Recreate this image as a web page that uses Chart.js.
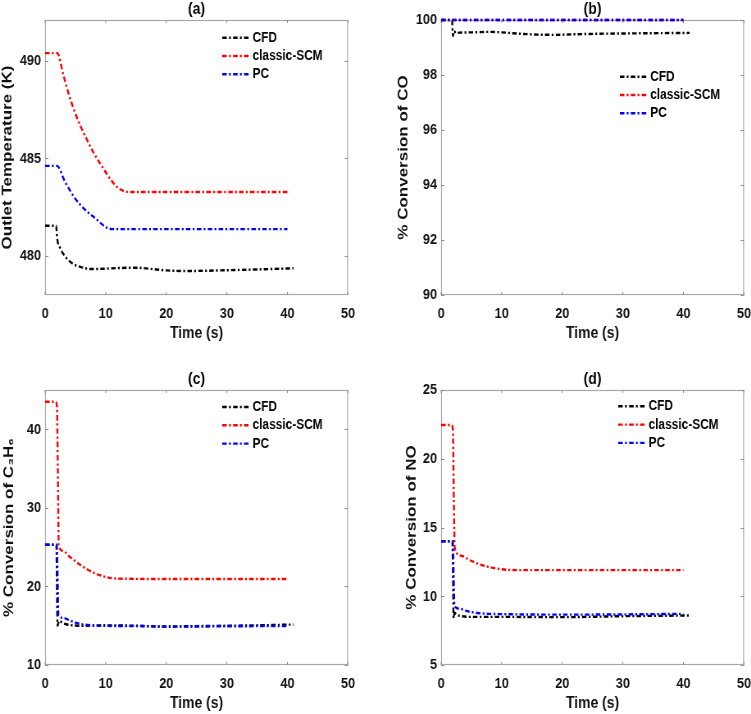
<!DOCTYPE html>
<html>
<head>
<meta charset="utf-8">
<script src="https://cdn.jsdelivr.net/npm/chart.js@4.4.0/dist/chart.umd.min.js"></script>
<style>
    html, body { margin: 0; padding: 0; background: #fff; overflow: hidden; }
    body { width: 751px; height: 714px; position: relative; }
    /* 元図は横方向に約0.82倍に縮められているので同じように縮める */
    .panel { position: absolute; width: 433px; height: 344px; transform: scaleX(0.82); transform-origin: 0 0; }
</style>
</head>
<body>
<div class="panel" style="left:0;top:0"><canvas id="chart-a" width="433" height="344"></canvas></div>
<div class="panel" style="left:396px;top:0"><canvas id="chart-b" width="433" height="344"></canvas></div>
<div class="panel" style="left:0;top:370px"><canvas id="chart-c" width="433" height="344"></canvas></div>
<div class="panel" style="left:396px;top:370px"><canvas id="chart-d" width="433" height="344"></canvas></div>
<script>
// 系列名と共通の時間軸目盛
const seriesNames = ['CFD', 'classic-SCM', 'PC'];
const timeTicks = [0, 10, 20, 30, 40, 50];

// (a) 出口温度 (K)
const tCfdA = [0, 1.82, 1.98, 2.48, 3.3, 4.4, 6.06, 7.7, 10, 12, 15, 18, 20, 23, 26, 30, 35, 41];
const cfdA = [481.55, 481.55, 480.92, 480.41, 479.98, 479.64, 479.42, 479.33, 479.35, 479.38, 479.4, 479.32, 479.26, 479.23, 479.24, 479.27, 479.31, 479.37];
const tScmA = [0, 2.0, 3, 4, 5, 6, 7, 8, 9, 10, 11, 12, 13, 14, 20, 30, 40];
const scmA = [490.4, 490.4, 489.3, 488.2, 487.3, 486.55, 485.9, 485.3, 484.78, 484.3, 483.85, 483.5, 483.33, 483.28, 483.28, 483.28, 483.28];
const tPcA = [0, 1.95, 3.3, 4.96, 6.6, 8.26, 9.92, 11.0, 12, 20, 30, 40];
const pcA = [484.62, 484.62, 483.8, 482.95, 482.37, 481.94, 481.5, 481.38, 481.38, 481.38, 481.38, 481.38];
const yTicksA = [480, 485, 490];

// (b) CO 転化率 (%)
const tCfdB = [0, 1.8, 1.95, 2.1, 2.5, 3, 5, 8, 10, 13, 16, 19, 22, 26, 30, 35, 41];
const cfdB = [100, 100, 99.42, 99.6, 99.52, 99.54, 99.55, 99.57, 99.55, 99.5, 99.47, 99.46, 99.48, 99.5, 99.51, 99.52, 99.53];
const tScmB = [0, 40];
const scmB = [100, 100];
const tPcB = [0, 40];
const pcB = [100, 100];
const yTicksB = [90, 92, 94, 96, 98, 100];

// (c) C3H6 転化率 (%)
const tCfdC = [0, 1.85, 1.98, 2.05, 2.3, 3, 4, 6, 10, 15, 20, 25, 30, 35, 41];
const cfdC = [25.3, 25.3, 18, 15.0, 15.6, 15.3, 15.1, 15.0, 15.05, 15.0, 14.9, 14.95, 15.0, 15.05, 15.15];
const tScmC = [0, 1.7, 1.95, 2.1, 2.25, 3, 4, 5, 6, 7, 8, 9, 10, 11, 12, 20, 30, 40];
const scmC = [43.5, 43.5, 43.0, 35, 25.2, 24.5, 23.8, 23.2, 22.65, 22.15, 21.75, 21.45, 21.2, 21.05, 21.0, 20.95, 20.95, 20.95];
const tPcC = [0, 1.93, 2.05, 2.2, 3, 4, 5, 6, 7, 9, 15, 20, 25, 30, 40];
const pcC = [25.3, 25.3, 22, 16.3, 16.0, 15.7, 15.4, 15.2, 15.1, 15.0, 14.95, 14.88, 14.9, 14.93, 14.95];
const yTicksC = [10, 20, 30, 40];

// (d) NO 転化率 (%)
const tCfdD = [0, 1.85, 1.98, 2.05, 2.2, 2.6, 3.5, 5, 10, 20, 30, 41];
const cfdD = [14.0, 14.0, 11, 8.4, 8.8, 8.65, 8.55, 8.5, 8.5, 8.48, 8.55, 8.6];
const tScmD = [0, 1.7, 1.95, 2.1, 2.25, 3.3, 4.85, 6.5, 8.16, 10.9, 13, 20, 30, 40];
const scmD = [22.45, 22.45, 22.1, 17, 13.5, 12.95, 12.6, 12.3, 12.1, 11.92, 11.9, 11.9, 11.9, 11.9];
const tPcD = [0, 1.93, 2.05, 2.2, 3.2, 4, 5, 6, 8, 10, 20, 30, 40];
const pcD = [14.0, 14.0, 12, 9.3, 9.08, 8.95, 8.85, 8.78, 8.72, 8.7, 8.66, 8.68, 8.72];
const yTicksD = [5, 10, 15, 20, 25];

const FONT = '"Liberation Sans", Arial, Helvetica, sans-serif';
const lineColors = ['#000000', '#ff0000', '#0000ff'];
const dashDot = [5.5, 2.8, 2.2, 2.8];

function toPoints(t, v) {
    return t.map((x, i) => ({ x: x, y: v[i] }));
}

// MATLAB風の枠・内向き目盛・タイトル・凡例を描くプラグイン
const matlabFrame = {
    id: 'matlabFrame',
    beforeDatasetsDraw(chart, args, opts) {
        const { ctx, chartArea: ca, scales: { x, y } } = chart;
        ctx.save();
        ctx.strokeStyle = '#a8a8a8';
        ctx.lineWidth = 1.2;
        ctx.strokeRect(ca.left + 0.5, ca.top + 0.5, ca.right - ca.left - 1, ca.bottom - ca.top - 1);
        ctx.strokeStyle = '#8c8c8c';
        ctx.lineWidth = 1;
        ctx.beginPath();
        x.ticks.forEach(t => {
            const px = x.getPixelForValue(t.value);
            ctx.moveTo(px, ca.bottom); ctx.lineTo(px, ca.bottom - 3);
            ctx.moveTo(px, ca.top); ctx.lineTo(px, ca.top + 3);
        });
        y.ticks.forEach(t => {
            const py = Math.round(y.getPixelForValue(t.value)) + 0.5;
            ctx.moveTo(ca.left, py); ctx.lineTo(ca.left + 4, py);
            ctx.moveTo(ca.right, py); ctx.lineTo(ca.right - 4, py);
        });
        ctx.stroke();
        ctx.restore();
    },
    afterDraw(chart, args, opts) {
        const { ctx, chartArea: ca } = chart;
        ctx.save();
        ctx.fillStyle = '#000';
        ctx.font = 'bold 17px ' + FONT;
        ctx.textAlign = 'center';
        ctx.textBaseline = 'middle';
        ctx.fillText(opts.title, (ca.left + ca.right) / 2, 9.5);

        ctx.font = 'bold 14.5px ' + FONT;
        ctx.textAlign = 'left';
        seriesNames.forEach((name, i) => {
            const ly = opts.legendY + i * 18.3;
            ctx.strokeStyle = lineColors[i];
            ctx.lineWidth = 2.4;
            ctx.setLineDash(dashDot);
            ctx.beginPath();
            ctx.moveTo(opts.legendX, ly);
            ctx.lineTo(opts.legendX + 33, ly);
            ctx.stroke();
            ctx.fillText(name, opts.legendX + 37, ly);
        });
        ctx.restore();
    }
};

function makeChart(id, panel) {
    const datasets = panel.series.map((s, i) => ({
        label: seriesNames[i],
        data: toPoints(s[0], s[1]),
        borderColor: lineColors[i],
        borderWidth: 2.4,
        borderDash: dashDot,
        pointRadius: 0,
        cubicInterpolationMode: 'monotone',
        clip: false,
        order: 2 - i
    }));

    return new Chart(document.getElementById(id), {
        type: 'line',
        data: { datasets: datasets },
        options: {
            responsive: false,
            animation: false,
            layout: { padding: { left: 0, right: 8.6, top: 20, bottom: 0 } },
            plugins: {
                legend: { display: false },
                tooltip: { enabled: false },
                matlabFrame: { title: panel.title, legendX: panel.legendX, legendY: panel.legendY }
            },
            scales: {
                x: {
                    type: 'linear',
                    min: 0,
                    max: 50,
                    afterBuildTicks: s => { s.ticks = timeTicks.map(v => ({ value: v })); },
                    afterFit: s => { s.height = 49; s.paddingLeft = 0; s.paddingRight = 0; },
                    grid: { display: false, drawTicks: false },
                    border: { display: false },
                    ticks: { color: '#111', padding: 9, maxRotation: 0, font: { family: FONT, size: 15.5, weight: 'bold' } },
                    title: {
                        display: true,
                        text: 'Time (s)',
                        color: '#111',
                        padding: { top: 0, bottom: 2.5 },
                        font: { family: FONT, size: 17, weight: 'bold', lineHeight: 1 }
                    }
                },
                y: {
                    type: 'linear',
                    min: panel.yMin,
                    max: panel.yMax,
                    afterBuildTicks: s => { s.ticks = panel.yTicks.map(v => ({ value: v })); },
                    afterFit: s => { s.width = 55; s.paddingTop = 0; s.paddingBottom = 0; },
                    grid: { display: false, drawTicks: false },
                    border: { display: false },
                    ticks: { color: '#111', padding: 5, font: { family: FONT, size: 15.5, weight: 'bold' } },
                    title: {
                        display: true,
                        text: panel.yTitle,
                        color: '#111',
                        padding: { top: panel.yTitlePad, bottom: 0 },
                        font: { family: FONT, size: 17, weight: 'bold', lineHeight: 1 }
                    }
                }
            }
        },
        plugins: [matlabFrame]
    });
}

makeChart('chart-a', {
    title: '(a)', yTitle: 'Outlet Temperature (K)', yTitlePad: 0.6,
    yMin: 478, yMax: 492.1, yTicks: yTicksA, legendX: 271, legendY: 37.7,
    series: [[tCfdA, cfdA], [tScmA, scmA], [tPcA, pcA]]
});
makeChart('chart-b', {
    title: '(b)', yTitle: '% Conversion of CO', yTitlePad: 1.2,
    yMin: 90, yMax: 100, yTicks: yTicksB, legendX: 273, legendY: 76.7,
    series: [[tCfdB, cfdB], [tScmB, scmB], [tPcB, pcB]]
});
makeChart('chart-c', {
    title: '(c)', yTitle: '% Conversion of C\u2083H\u2086', yTitlePad: 2.5,
    yMin: 10, yMax: 45, yTicks: yTicksC, legendX: 271, legendY: 37,
    series: [[tCfdC, cfdC], [tScmC, scmC], [tPcC, pcC]]
});
makeChart('chart-d', {
    title: '(d)', yTitle: '% Conversion of NO', yTitlePad: 10.6,
    yMin: 5, yMax: 25, yTicks: yTicksD, legendX: 271, legendY: 36.3,
    series: [[tCfdD, cfdD], [tScmD, scmD], [tPcD, pcD]]
});
</script>
</body>
</html>
